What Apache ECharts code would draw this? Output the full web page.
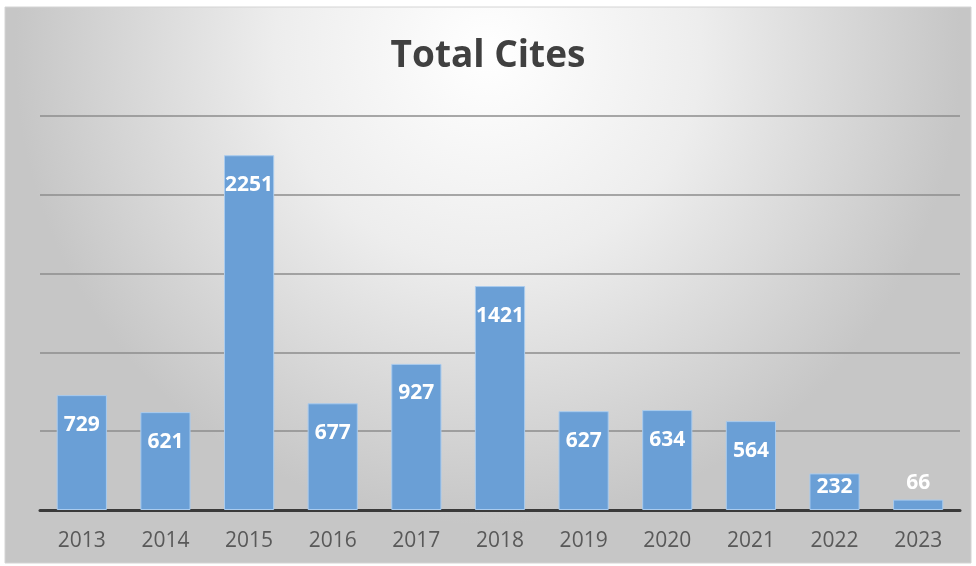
<!DOCTYPE html>
<html><head><meta charset="utf-8">
<script src="https://cdn.jsdelivr.net/npm/echarts@6/dist/echarts.min.js"></script>
<style>html,body{margin:0;padding:0;background:#fff}#c{width:976px;height:566px}</style>
</head><body><div id="c"></div>
<script>
const categories = ['2013','2014','2015','2016','2017','2018','2019','2020','2021','2022','2023'];
const totalCites = [729, 621, 2251, 677, 927, 1421, 627, 634, 564, 232, 66];
const titleText = 'Total Cites';

const chart = echarts.init(document.getElementById('c'));
const data = totalCites.map(v => v < 150
  ? { value: v, label: { position: 'top', distance: 6 } }
  : v < 400
  ? { value: v, label: { distance: 3 } }
  : { value: v });
chart.setOption({
  animation: false,
  graphic: [{
    type: 'rect', z: -10, silent: true,
    shape: { x: 5, y: 7, width: 966, height: 556 },
    style: {
      fill: { type: 'radial', x: 0.5, y: 0.08, r: 0.85,
        colorStops: [{ offset: 0, color: '#ffffff' }, { offset: 0.45, color: '#ededed' }, { offset: 1, color: '#c6c6c6' }] },
      stroke: '#d4d4d4', lineWidth: 1
    }
  }],
  title: {
    text: titleText, left: 'center', top: 33,
    textStyle: { fontFamily: 'Open Sans', fontSize: 37, fontWeight: 'bold', color: '#404040' }
  },
  grid: { left: 40, right: 16, top: 116, bottom: 56 },
  xAxis: {
    type: 'category', data: categories,
    axisLine: { lineStyle: { color: '#3a3a3a', width: 3 } },
    axisTick: { show: false },
    axisLabel: { fontFamily: 'Open Sans', fontSize: 21, color: '#595959', margin: 21 }
  },
  yAxis: {
    type: 'value', min: 0, max: 2500, interval: 500,
    axisLabel: { show: false }, axisLine: { show: false }, axisTick: { show: false },
    splitLine: { lineStyle: { color: '#8c8c8c', width: 1.5 } }
  },
  series: [{
    type: 'bar', data: data, barCategoryGap: '40%',
    itemStyle: { color: '#6a9fd6', borderColor: '#a9cbee', borderWidth: 1 },
    label: { show: true, position: 'insideTop', distance: 19,
      fontFamily: 'Open Sans', fontSize: 21, fontWeight: 'bold', color: '#ffffff' }
  }]
});
</script></body></html>
